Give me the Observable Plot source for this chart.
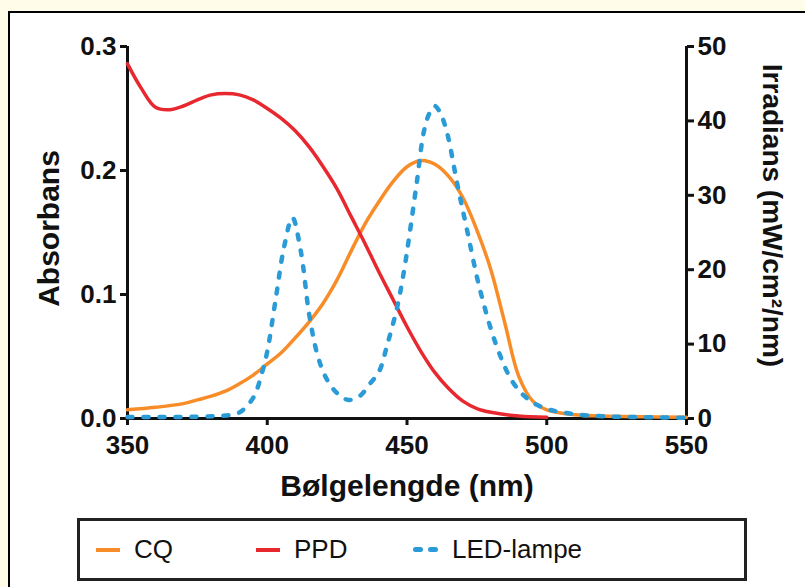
<!DOCTYPE html>
<html>
<head>
<meta charset="utf-8">
<script src="https://cdn.jsdelivr.net/npm/d3@7"></script>
<script src="https://cdn.jsdelivr.net/npm/@observablehq/plot@0.6"></script>
<style>
  html, body { margin: 0; padding: 0; }
  body { width: 805px; height: 587px; background: #fffdea; position: relative; overflow: hidden;
         font-family: "Liberation Sans", Arial, sans-serif; }
  #box { position: absolute; left: 8px; top: 11px; width: 820px; height: 600px; background: #fff;
         border-left: 2px solid #000; border-top: 2px solid #000; }
  #chart { position: absolute; left: 0; top: 0; }
  #legend { position: absolute; left: 77px; top: 518px; width: 664px; height: 57px;
            border: 3px solid #222; background: #fff; }
  .item { position: absolute; top: 0; height: 57px; display: flex; align-items: center;
          font-size: 26px; color: #111; }
  .sw { display: inline-block; width: 24px; height: 4px; margin-right: 14px; }
  .dash { display: inline-block; width: 10px; height: 5px; border-radius: 3px; margin-right: 5px; }
</style>
</head>
<body>
<div id="box"></div>
<div id="chart"></div>
<div id="legend"></div>
<script>
// ---- data ----
const seriesNames = ["CQ", "PPD", "LED-lampe"];
const seriesColors = ["#f78c28", "#e8282f", "#2a9bd7"];

const cqNm = [350, 360, 370, 375, 380, 385, 390, 395, 400, 405, 410, 415, 420, 425, 430, 435, 440, 445, 450, 455, 460, 465, 470, 475, 480, 485, 490, 495, 500, 510, 520, 550];
const cqAbs = [0.007, 0.009, 0.012, 0.015, 0.018, 0.022, 0.028, 0.035, 0.044, 0.053, 0.065, 0.078, 0.093, 0.112, 0.135, 0.157, 0.175, 0.191, 0.203, 0.208, 0.205, 0.195, 0.178, 0.152, 0.120, 0.077, 0.034, 0.014, 0.007, 0.003, 0.002, 0.001];

const ppdNm = [350, 355, 360, 365, 370, 375, 380, 385, 390, 395, 400, 405, 410, 415, 420, 425, 430, 435, 440, 445, 450, 455, 460, 465, 470, 475, 480, 490, 500];
const ppdAbs = [0.286, 0.266, 0.251, 0.249, 0.252, 0.257, 0.261, 0.262, 0.261, 0.257, 0.250, 0.242, 0.232, 0.219, 0.203, 0.185, 0.163, 0.141, 0.118, 0.096, 0.074, 0.054, 0.037, 0.024, 0.014, 0.008, 0.005, 0.002, 0.001];

const ledNm = [350, 360, 370, 380, 385, 390, 395, 398, 400, 403, 406, 409, 412, 415, 418, 421, 425, 429, 433, 437, 440, 443, 446.5, 449, 451, 453.6, 456, 458, 460, 462, 464.4, 468, 471.5, 476, 482, 488, 494, 500, 506, 515, 530, 550];
const ledIrr = [0.2, 0.2, 0.2, 0.3, 0.4, 0.8, 2.8, 6, 9, 16, 23, 27, 22.5, 14, 8.5, 5.5, 3.4, 2.5, 3.0, 4.8, 6.3, 10, 15, 20, 25, 32, 38.5, 41, 42, 41, 38.3, 31.5, 25.3, 17.5, 9.8, 4.8, 2.4, 1.3, 0.8, 0.4, 0.2, 0.1];

const xTicks = [350, 400, 450, 500, 550];
const absTicks = [0, 0.1, 0.2, 0.3];
const irrTicks = [0, 10, 20, 30, 40, 50];

const xTitle = "Bølgelengde (nm)";
const yTitleLeft = "Absorbans";
const yTitleRight = "Irradians (mW/cm²/nm)";

// right axis (0–50) mapped onto the left axis (0–0.3)
const k = 0.3 / 50;

const cq = cqNm.map((nm, i) => ({nm, v: cqAbs[i]}));
const ppd = ppdNm.map((nm, i) => ({nm, v: ppdAbs[i]}));
const led = ledNm.map((nm, i) => ({nm, v: ledIrr[i] * k}));

const axisFont = {fontSize: 26, fontWeight: "bold"};
const titleFont = {fontWeight: "bold", textAnchor: "middle", lineAnchor: "middle"};

const chart = Plot.plot({
  width: 805,
  height: 510,
  marginLeft: 127,
  marginRight: 119,
  marginTop: 46,
  marginBottom: 92,
  style: {background: "transparent", fontFamily: "'Liberation Sans', Arial, sans-serif", color: "#111", overflow: "visible"},
  x: {domain: [350, 550]},
  y: {domain: [0, 0.3]},
  marks: [
    Plot.ruleY([0], {stroke: "#111", strokeWidth: 3}),
    Plot.ruleX([350, 550], {stroke: "#111", strokeWidth: 3}),
    Plot.axisX({ticks: xTicks, tickSize: 7, tickPadding: 10, strokeWidth: 3, label: null, tickFormat: d => String(d), ...axisFont}),
    Plot.axisY({anchor: "left", ticks: absTicks, tickSize: 7, tickPadding: 4, strokeWidth: 3, label: null, tickFormat: d3.format(".1f"), ...axisFont}),
    Plot.axisY({anchor: "right", ticks: irrTicks.map(v => v * k), tickSize: 7, tickPadding: 4, strokeWidth: 3, label: null, tickFormat: v => String(Math.round(v / k)), ...axisFont}),
    Plot.line(cq, {x: "nm", y: "v", stroke: seriesColors[0], strokeWidth: 3.5, curve: "catmull-rom"}),
    Plot.line(ppd, {x: "nm", y: "v", stroke: seriesColors[1], strokeWidth: 3.5, curve: "catmull-rom"}),
    Plot.line(led, {x: "nm", y: "v", stroke: seriesColors[2], strokeWidth: 4.5, strokeDasharray: "5,11", strokeLinecap: "round", curve: "catmull-rom"}),
    Plot.text([xTitle], {text: d => d, frameAnchor: "bottom", dy: 68, fontSize: 30, ...titleFont}),
    Plot.text([yTitleLeft], {text: d => d, frameAnchor: "left", dx: -78, dy: -4, rotate: -90, fontSize: 30, ...titleFont}),
    Plot.text([yTitleRight], {text: d => d, frameAnchor: "right", dx: 85, dy: -17, rotate: 90, fontSize: 28, ...titleFont})
  ]
});
document.getElementById("chart").appendChild(chart);

// legend
const legend = document.getElementById("legend");
const itemLeft = [16, 176, 333];
seriesNames.forEach((name, i) => {
  const it = document.createElement("div");
  it.className = "item";
  it.style.left = itemLeft[i] + "px";
  if (i === 2) {
    for (let j = 0; j < 2; j++) {
      const d = document.createElement("span");
      d.className = "dash";
      d.style.background = seriesColors[i];
      it.appendChild(d);
    }
    it.lastChild.style.marginRight = "14px";
  } else {
    const s = document.createElement("span");
    s.className = "sw";
    s.style.background = seriesColors[i];
    it.appendChild(s);
  }
  const t = document.createElement("span");
  t.textContent = name;
  it.appendChild(t);
  legend.appendChild(it);
});
</script>
</body>
</html>
